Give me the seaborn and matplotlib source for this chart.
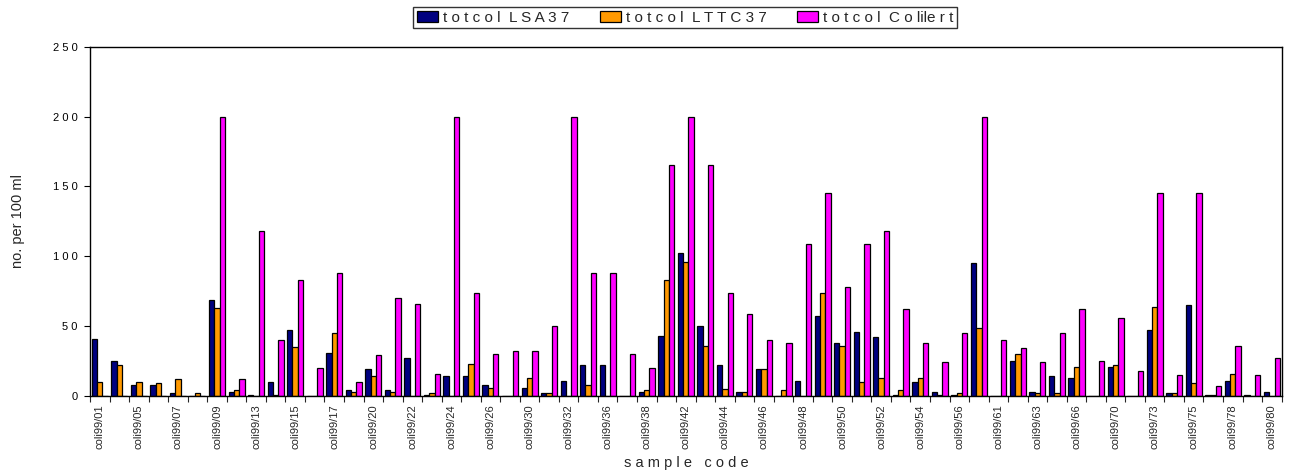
import pandas as pd
import matplotlib
matplotlib.use('Agg')
import matplotlib.pyplot as plt
import seaborn as sns
from matplotlib.ticker import FuncFormatter

# sample codes (only every other one is labelled on the axis)
codes = ['01', '03', '05', '06', '07', '08', '09', '11', '13', '14',
         '15', '16', '17', '18', '20', '21', '22', '23', '24', '25',
         '26', '28', '30', '31', '32', '34', '36', '37', '38', '40',
         '42', '43', '44', '45', '46', '47', '48', '49', '50', '51',
         '52', '53', '54', '55', '56', '59', '61', '62', '63', '65',
         '66', '68', '70', '72', '73', '74', '75', '77', '78', '79', '80']
samples = ['coli99/' + c for c in codes]

lsa37 = [41, 25, 8, 8, 2, 0, 69, 3, 1, 10, 47, 0, 31, 4, 19, 4, 27, 1, 14, 14,
         8, 0, 6, 2, 11, 22, 22, 0, 3, 43, 102, 50, 22, 3, 19, 0, 11, 57, 38, 46,
         42, 1, 10, 3, 1, 95, 0, 25, 3, 14, 13, 0, 21, 0, 47, 2, 65, 1, 11, 1, 3]
lttc37 = [10, 22, 10, 9, 12, 2, 63, 4, 0, 1, 35, 0, 45, 3, 14, 3, 0, 2, 0, 23,
          6, 0, 13, 2, 0, 8, 0, 0, 4, 83, 96, 36, 5, 3, 19, 4, 0, 74, 36, 10,
          13, 4, 13, 1, 2, 49, 0, 30, 2, 2, 21, 0, 22, 0, 64, 2, 9, 1, 16, 0, 0]
colilert = [0, 0, 0, 0, 0, 0, 200, 12, 118, 40, 83, 20, 88, 10, 29, 70, 66, 16, 200, 74,
            30, 32, 32, 50, 200, 88, 88, 30, 20, 165, 200, 165, 74, 59, 40, 38, 109, 145, 78, 109,
            118, 62, 38, 24, 45, 200, 40, 34, 24, 45, 62, 25, 56, 18, 145, 15, 145, 7, 36, 15, 27]

series = ['t o t c o l  L S A 3 7', 't o t c o l  L T T C 3 7', 't o t c o l  C o lile r t']
colors = ['#000080', '#FF9900', '#FF00FF']

df = pd.DataFrame({'sample': samples, series[0]: lsa37,
                   series[1]: lttc37, series[2]: colilert})
long = df.melt(id_vars='sample', var_name='series', value_name='value')

sns.set_style('white')
plt.rcParams['font.family'] = ['Liberation Sans', 'DejaVu Sans']

fig = plt.figure(figsize=(12.9, 4.73), dpi=100)
ax = fig.add_axes([0.0698, 0.1628, 0.9237, 0.7385])

sns.barplot(data=long, x='sample', y='value', hue='series', order=samples,
            hue_order=series, palette=colors, saturation=1, width=0.82,
            edgecolor='black', linewidth=0.9, ax=ax)

ax.set_xlim(-0.5, len(samples) - 0.5)
ax.set_ylim(0, 250)
ax.set_yticks(range(0, 251, 50))
ax.yaxis.set_major_formatter(FuncFormatter(lambda v, p: ' '.join(str(int(v)))))
ax.tick_params(axis='y', labelsize=8, length=4, width=0.8, direction='out',
               left=True, colors='black', pad=5)

ax.set_xticks(range(0, len(samples), 2))
ax.set_xticklabels(samples[::2], rotation=90, fontsize=8)
ax.set_xticks([i - 0.5 for i in range(len(samples) + 1)], minor=True)
ax.tick_params(axis='x', which='major', length=0, pad=6)
ax.tick_params(axis='x', which='minor', length=4, width=0.8, direction='out',
               bottom=True)

for s in ax.spines.values():
    s.set_color('black')
    s.set_linewidth(1.0)

ax.set_xlabel('s a m p l e   c o d e', fontsize=10.5, labelpad=5)
ax.set_ylabel('no. per 100 ml', fontsize=10.5, labelpad=20)

handles, labels = ax.get_legend_handles_labels()
ax.get_legend().remove()
fig.legend(handles, labels, loc='center', bbox_to_anchor=(0.531, 0.963),
           ncol=3, fontsize=11, frameon=True, fancybox=False, edgecolor='black',
           handlelength=1.4, handleheight=0.75, handletextpad=0.3,
           columnspacing=2.0, borderpad=0.25, borderaxespad=0)

fig.savefig('out.png', dpi=100)
